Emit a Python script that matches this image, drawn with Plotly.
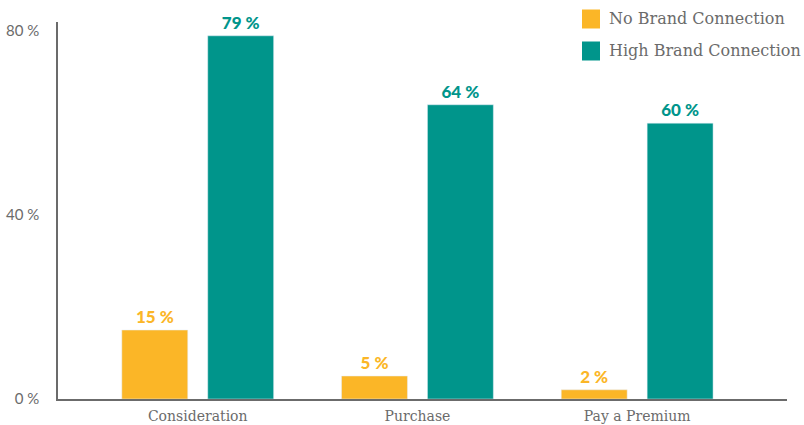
import plotly.graph_objects as go

categories = ["Consideration", "Purchase", "Pay a Premium"]
no_brand = [15, 5, 2]
high_brand = [79, 64, 60]
series_names = ["No Brand Connection", "High Brand Connection"]
y_ticks = [0, 40, 80]
y_tick_labels = ["0 %", "40 %", "80 %"]

ORANGE = "#FBB627"
TEAL = "#00958B"
GRAY = "#6b6b6b"

x = list(range(len(categories)))

fig = go.Figure()
fig.add_trace(go.Bar(
    x=x, y=no_brand, name=series_names[0], marker_color=ORANGE,
    text=[f"{v} %" for v in no_brand], textposition="outside",
    textfont=dict(family="Lato", size=17, color=ORANGE, weight=900),
    cliponaxis=False, showlegend=False,
))
fig.add_trace(go.Bar(
    x=x, y=high_brand, name=series_names[1], marker_color=TEAL,
    text=[f"{v} %" for v in high_brand], textposition="outside",
    textfont=dict(family="Lato", size=17, color=TEAL, weight=900),
    cliponaxis=False, showlegend=False,
))

fig.update_layout(
    width=804, height=425,
    margin=dict(l=58, r=17, t=22, b=26, autoexpand=False),
    paper_bgcolor="white", plot_bgcolor="white",
    barmode="group", bargap=0.218, bargroupgap=0.2326,
    showlegend=False,
)
fig.update_xaxes(
    range=[-0.636, 2.682], tickmode="array", tickvals=x, ticktext=categories,
    showline=True, linecolor=GRAY, linewidth=1.5, showgrid=False, zeroline=False,
    ticks="", automargin=False, ticklabelstandoff=3,
    tickfont=dict(family="DejaVu Serif", size=14, color=GRAY),
)
fig.update_yaxes(
    range=[0, 82], tickmode="array", tickvals=y_ticks, ticktext=y_tick_labels,
    showline=True, linecolor=GRAY, linewidth=1.5, showgrid=False, zeroline=False,
    ticks="", ticklabelstandoff=14, automargin=False,
    tickfont=dict(family="Lato", size=15, color=GRAY),
)

# manual legend
for i, (name, col) in enumerate(zip(series_names, [ORANGE, TEAL])):
    yc = 19 + 32 * i
    fig.add_shape(type="rect", xref="paper", yref="paper",
                  x0=(582 - 58) / 729, x1=(600 - 58) / 729,
                  y0=(425 - 26 - (yc + 9.5)) / 377, y1=(425 - 26 - (yc - 9.5)) / 377,
                  fillcolor=col, line_width=0)
    fig.add_annotation(xref="paper", yref="paper",
                       x=(607 - 58) / 729, y=(425 - 26 - yc) / 377,
                       xanchor="left", yanchor="middle", showarrow=False,
                       text=name, font=dict(family="DejaVu Serif", size=16, color=GRAY))

fig.write_html("out.html")
